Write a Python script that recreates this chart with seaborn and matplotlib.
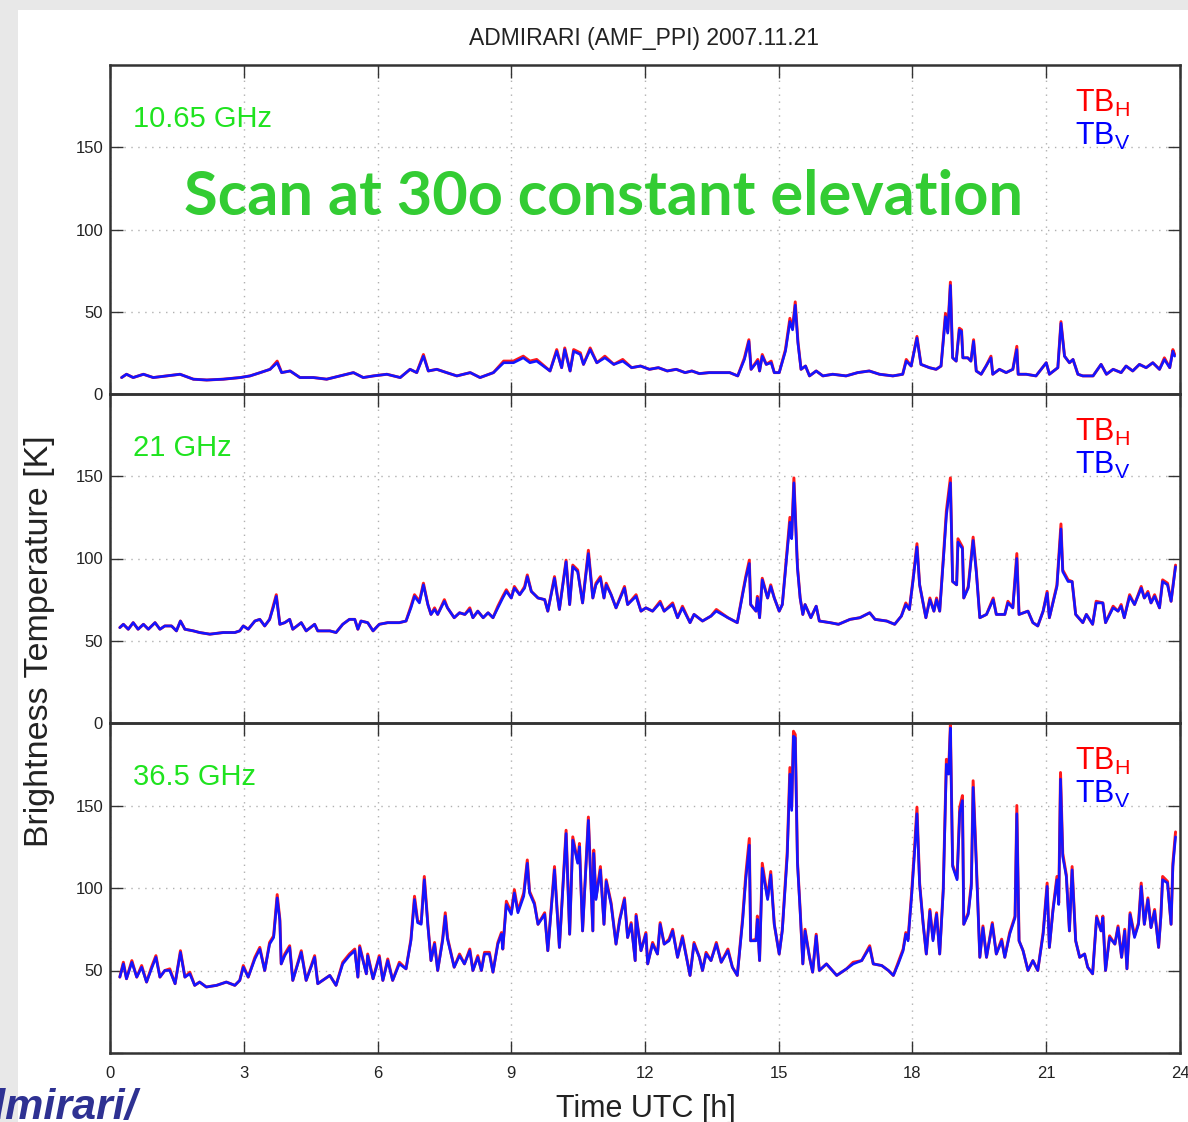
import numpy as np
import pandas as pd
import matplotlib
matplotlib.use("Agg")
import matplotlib.pyplot as plt
import seaborn as sns
from matplotlib.patches import Rectangle

# ---------------- data ----------------
title = "ADMIRARI (AMF_PPI) 2007.11.21"
freq_labels = ["10.65 GHz", "21 GHz", "36.5 GHz"]
x_ticks = [0, 3, 6, 9, 12, 15, 18, 21, 24]
y_ticks = [0, 50, 100, 150]

# 10.65 GHz
t10 = [0.26,0.37,0.52,0.75,0.97,1.27,1.57,1.87,2.17,2.54, 2.92,3.14,3.37,3.59,3.75,3.85,4.04,4.26,4.56,4.86,
       5.16,5.46,5.68,5.91,6.21,6.51,6.73,6.88,7.03,7.14, 7.33,7.55,7.78,8.08,8.3,8.6,8.83,9.05,9.27,9.42,
       9.57,9.87,10.02,10.13,10.2,10.32,10.4,10.55,10.62,10.77, 10.92,
       11.1,11.3,11.5,11.7,11.9,12.1,12.3,12.5,12.7,12.9,13.05,
       13.22,13.44,13.67,13.9,14.08,14.23,14.33,14.38,14.53,14.57, 14.63,14.72,14.83,14.9,15.01,15.15,15.25,15.31,15.37,15.43,
       15.5,15.6,15.69,15.84,15.99,16.21,16.51,16.77,17.03,17.26, 17.56,17.78,17.86,17.97,18.1,18.19,18.38,18.53,18.64,18.74,
       18.79,18.85,18.9,18.98,19.05,19.1,19.13,19.24,19.31,19.37, 19.43,19.54,19.65,19.76,19.8,19.95,20.1,20.25,20.34,20.37,
       20.55,20.77,21.0,21.07,21.26,21.33,21.41,21.52,21.6,21.71, 21.82,22.05,22.23,22.35,22.5,22.68,22.79,22.94,23.09,23.24,
       23.39,23.54,23.65,23.77,23.84,23.88]
tbv10 = [10,12,10,12,10,11,12,9,8.5,9, 10,11,13,15,19,13,14,10,10,9,
         11,13,10,11,12,10,15,13,23,14, 15,13,11,13,10,13,19,19,22,19,
         20,14,26,16,27,14,26,24,18,27, 19,
         22,18,20,16,17,15,16,14,15,13,14,
         12.4,13,13,13,11,21,32,15,20,14, 23,18,19,13,13,26,44,39,54,31,
         15,17,11,14,11,12,11,13,14,12, 11,12,20,17,34,18,16,15,17,47,
         37,66,22,20,39,38,22,22,20,32, 14,12,17,22,12,15,13,15,27,12,
         12,11,19,12,16,43,23,19,21,12, 11,11,18,12,15,13,17,14,18,16,
         19,15,21,16,26,23]
tbh10 = [10,12,10,12,10,11,12,9,8.5,9, 10,11,13,15,20,13,14,10,10,9,
         11,13,10,11,12,10,15,13,24,14, 15,13,11,13,10,13,20,20,23,20,
         21,14,27,16,28,14,27,25,18,28, 19,
         23,18,21,16,17,15,16,14,15,13,14,
         12.4,13,13,13,11,22,33,15,21,14, 24,18,20,13,13,27,46,40,56,32,
         15,17,11,14,11,12,11,13,14,12, 11,12,21,17,35,18,16,15,17,49,
         38,68,22,20,40,39,22,22,20,33, 14,12,17,23,12,15,13,15,29,12,
         12,11,19,12,16,44,23,19,21,12, 11,11,18,12,15,13,17,14,18,16,
         19,15,22,16,27,24]

# 21 GHz
t21 = [0.22,0.3,0.41,0.52,0.63,0.75,0.86,1.01,1.12,1.23, 1.38,1.49,1.58,1.68,1.87,2.01,2.24,2.54,2.8,2.91,
       2.99,3.1,3.25,3.36,3.47,3.58,3.66,3.73,3.81,3.92, 4.03,4.1,4.29,4.4,4.59,4.66,4.93,5.07,5.22,5.37,
       5.49,5.56,5.63,5.78,5.9,6.04,6.23,6.49,6.64,6.75, 6.83,6.94,7.03,7.13,7.2,7.28,7.35,7.5,7.57,7.72, 7.84,
       7.96,8.07,8.14,8.25,8.37,8.48,8.59,8.7,8.81,8.89, 9.0,9.07,9.19,9.3,9.36,9.45,9.6,9.75,9.82,9.97,
       10.08,10.23,10.31,10.38,10.49,10.6,10.73,10.83,10.9,11.0, 11.08,11.13,11.24,11.35,11.54,11.61,11.8,11.91,12.02,12.17,
       12.34,12.43,12.62,12.73,12.84,13.01,13.1,13.29,13.48,13.6, 13.86,14.07,14.19,14.26,14.34,14.37,14.49,14.52,14.57,14.63,
       14.75,14.82,14.9,15.01,15.08,15.19,15.25,15.29,15.34,15.42, 15.48,15.54,15.59,15.72,15.84,15.91,
       16.15,16.34,16.6,16.82,17.04,17.16,17.42,17.6,17.75,17.85, 17.93,18.01,18.1,18.16,18.3,18.39,18.48,18.54,18.61,18.7,
       18.76,18.85,18.9,18.99,19.02,19.12,19.15,19.25,19.36,19.43, 19.51,19.66,19.81,19.88,20.07,20.14,20.25,20.34,20.39,20.59,
       20.7,20.81,20.93,21.02,21.07,21.24,21.33,21.37,21.49,21.58, 21.66,21.82,21.9,22.04,22.12,22.27,22.33,22.5,22.61,22.68,
       22.75,22.87,22.98,23.13,23.2,23.28,23.35,23.43,23.54,23.61, 23.72,23.8,23.9]
tbv21 = [58,60,57,61,57,60,57,61,57,59, 59,56,62,57,56,55,54,55,55,56,
         59,57,62,63,59,63,70,77,60,61, 63,57,61,56,60,56,56,55,60,63,
         63,57,62,61,56,60,61,61,62,70, 77,73,84,72,66,69,66,74,70,64, 67,
         66,69,64,68,64,67,64,70,76,80, 76,82,78,82,89,80,76,75,68,88,
         69,98,72,95,92,73,103,76,84,88, 76,84,78,70,82,72,77,68,70,68,
         73,68,72,64,70,61,66,62,65,68, 64,61,78,88,97,72,68,76,64,87,
         76,83,76,68,72,104,122,112,146,94, 76,66,72,64,71,62,
         61,60,63,64,67,63,62,60,65,72, 69,86,107,84,64,75,68,75,68,102,
         126,146,86,84,110,106,76,82,111,92, 64,66,75,66,66,73,70,100,66,68,
         61,59,68,79,64,83,118,92,86,86, 66,61,66,60,73,73,61,70,68,71,
         64,77,72,82,76,79,73,77,70,86, 84,74,95]
tbh21 = [58,60,57,61,57,60,57,61,57,59, 59,56,62,57,56,55,54,55,55,56,
         59,57,62,63,59,63,71,78,60,61, 63,57,61,56,60,56,56,55,60,63,
         63,57,62,61,56,60,61,61,62,71, 78,74,85,72,66,70,66,75,70,64, 67,
         66,70,64,68,64,67,64,71,77,81, 76,83,78,83,90,80,76,75,68,89,
         69,99,72,96,93,73,105,76,85,89, 76,85,78,70,83,72,78,68,70,68,
         74,68,73,64,71,61,66,62,65,69, 64,61,79,89,99,72,68,77,64,88,
         76,84,76,68,72,106,125,114,149,95, 76,66,72,64,71,62,
         61,60,63,64,67,63,62,60,65,73, 69,87,109,84,64,76,68,76,68,104,
         129,149,86,84,112,107,76,83,113,93, 64,66,76,66,66,74,70,103,66,68,
         61,59,68,80,64,84,121,93,87,86, 66,61,66,60,74,73,61,71,68,72,
         64,78,72,83,76,80,73,78,70,87, 85,74,96]

# 36.5 GHz
t36 = [0.22,0.3,0.37,0.49,0.6,0.71,0.82,0.93,1.03,1.12, 1.23,1.34,1.46,1.58,1.68,1.79,1.9,2.01,2.16,2.39,
       2.61,2.8,2.91,2.99,3.1,3.25,3.36,3.47,3.58,3.67, 3.75,3.81,3.84,3.92,4.03,4.1,4.29,4.4,4.59,4.66,
       4.93,5.07,5.22,5.37,5.49,5.56,5.6,5.75,5.78,5.9, 6.04,6.12,6.23,6.34,6.49,6.64,6.75,6.83,6.9,6.98,
       7.05,7.13,7.2,7.28,7.35,7.46,7.52,7.57,7.72,7.84, 7.95,
       8.07,8.14,8.25,8.33,8.4,8.51,8.59,8.7,8.78,8.81, 8.89,9.0,9.07,9.15,9.28,9.36,9.41,9.52,9.6,9.75,
       9.82,9.97,10.08,10.23,10.31,10.38,10.49,10.53,10.6,10.73, 10.83,10.85,10.9,11.0,11.08,11.13,11.24,11.35,11.43,11.54,
       11.61,11.69,11.78,11.8,11.91,12.02,12.06,12.17,12.28,12.34, 12.43,12.54,12.62,12.73,12.84,13.01,13.1,13.22,13.29,13.37,
       13.48,13.6,13.71,13.86,13.96,14.07,14.19,14.26,14.34,14.37, 14.49,14.52,14.57,14.63,14.75,14.82,14.9,15.01,15.08,15.19,
       15.25,15.29,15.33,15.37,15.42,15.48,15.54,15.59,15.69,15.76, 15.84,15.91,
       16.07,16.3,16.52,16.67,16.86,17.04,17.12,17.31,17.46,17.57, 17.68,17.79,17.85,17.9,17.98,18.05,18.1,18.16,18.24,18.31,
       18.39,18.46,18.54,18.61,18.69,18.76,18.81,18.85,18.9,18.95, 19.0,19.06,19.12,19.15,19.25,19.32,19.36,19.43,19.51,19.58,
       19.66,19.79,19.88,20.0,20.07,20.18,20.3,20.34,20.39,20.48, 20.59,20.7,20.81,20.93,21.02,21.07,21.15,21.24,21.28,21.32,
       21.37,21.45,21.52,21.58,21.66,21.75,21.86,21.93,22.04,22.13, 22.23,22.27,22.33,22.42,22.54,22.61,22.69,22.76,22.81,22.88,
       22.98,23.07,23.13,23.2,23.28,23.35,23.43,23.52,23.57,23.61, 23.72,23.8,23.84,23.9]
tbv36 = [46,54,45,55,46,52,43,51,58,46, 50,50,42,61,46,48,41,43,40,41,
         43,41,44,52,46,57,63,50,66,70, 94,80,54,59,64,44,61,44,58,42,
         47,41,54,59,62,46,64,48,59,45, 58,44,56,44,54,51,68,93,79,78,
         105,77,56,66,50,68,83,69,52,59, 54,
         62,50,58,50,60,60,49,66,72,63, 90,84,97,85,95,115,97,90,78,84,
         62,111,64,133,72,129,115,125,74,141, 74,121,93,111,78,104,90,66,80,93,
         70,78,56,83,62,72,54,66,60,78, 66,68,74,58,70,47,66,58,50,60,
         56,66,55,62,52,47,80,105,126,68, 68,81,56,112,93,108,78,60,74,119,
         169,147,192,191,115,86,54,74,58,49, 71,50,
         54,47,51,54,56,64,54,53,50,47, 54,62,72,68,95,123,145,102,78,60,
         86,68,84,60,98,175,169,197,113,109, 105,146,153,78,84,101,161,115,58,76,
         58,78,60,68,58,72,82,145,68,62, 50,56,50,72,101,64,86,105,90,166,
         119,107,74,111,68,58,60,52,48,82, 74,82,50,70,66,76,58,74,51,84,
         70,78,101,78,93,76,86,64,82,105, 103,78,113,131]
tbh36 = [46,55,45,56,46,53,43,52,59,46, 50,51,42,62,46,49,41,43,40,41,
         43,41,44,53,46,58,64,50,67,71, 96,81,54,60,65,44,62,44,59,42,
         47,41,55,60,63,46,65,48,60,45, 59,44,57,44,55,51,69,95,80,79,
         107,78,56,67,50,69,85,70,52,60, 54,
         63,50,59,50,61,61,49,67,73,63, 92,85,99,86,97,117,98,91,78,85,
         62,113,64,135,72,131,116,127,74,143, 74,123,94,113,78,105,91,66,81,94,
         70,79,56,84,62,73,54,67,60,79, 66,69,75,58,71,47,67,58,50,61,
         56,67,55,63,52,47,82,108,130,68, 69,83,56,115,94,110,78,60,75,122,
         173,149,195,193,116,87,54,75,58,49, 72,50,
         54,47,51,55,56,65,54,53,50,47, 55,63,73,69,97,126,149,103,78,60,
         87,69,85,60,100,178,171,199,114,110, 106,149,156,78,85,103,165,117,58,77,
         58,79,60,69,58,73,83,150,68,62, 50,56,50,73,103,64,87,107,91,170,
         121,108,74,113,68,58,60,52,48,83, 74,83,50,71,66,77,58,75,51,85,
         71,79,103,78,94,76,87,64,83,107, 104,78,115,134]

panels = [(t10, tbh10, tbv10), (t21, tbh21, tbv21), (t36, tbh36, tbv36)]

# ---------------- style ----------------
sns.set_style("ticks")
plt.rcParams['font.family'] = ['Liberation Sans', 'DejaVu Sans']
plt.rcParams['mathtext.fontset'] = 'custom'
plt.rcParams['mathtext.rm'] = 'Liberation Sans'
plt.rcParams['mathtext.it'] = 'Liberation Sans'

W, H = 1188, 1122
fig = plt.figure(figsize=(W / 100, H / 100), dpi=100, facecolor='#e8e8e8')
fig.add_artist(Rectangle((18 / W, 0), 1 - 18 / W, (H - 10) / H, transform=fig.transFigure,
                         facecolor='white', edgecolor='none', zorder=-10))

left, width = 110 / W, 1070 / W
tops = [65, 394, 723]
bots = [394, 723, 1053]

RED = '#ff1a1a'
BLUE = '#1414ff'
GREEN = '#1fe31f'

for i, (t, h, v) in enumerate(panels):
    ax = fig.add_axes([left, (H - bots[i]) / H, width, (bots[i] - tops[i]) / H])
    ax.set_facecolor('none')
    df = pd.DataFrame({'t': t, 'H': h, 'V': v})
    sns.lineplot(data=df, x='t', y='H', ax=ax, color=RED, lw=2.1, estimator=None, sort=False)
    sns.lineplot(data=df, x='t', y='V', ax=ax, color=BLUE, lw=1.9, estimator=None, sort=False)
    ax.set_xlim(0, 24)
    ax.set_ylim(0, 200)
    ax.set_xticks(x_ticks)
    ax.set_yticks(y_ticks)
    if i < 2:
        ax.set_xticklabels([])
    else:
        ax.set_xticklabels([str(x) for x in x_ticks])
        ax.set_yticklabels([''] + [str(y) for y in y_ticks[1:]])
    ax.set_xlabel('')
    ax.set_ylabel('')
    ax.grid(True, linestyle=(0, (1, 4)), color='#b0b0b0', lw=1.0)
    ax.tick_params(direction='in', length=9, width=1.0, top=True, right=True,
                   colors='#333333', labelcolor='#222222', labelsize=12)
    ax.tick_params(axis='x', pad=9)
    ax.tick_params(axis='y', pad=5)
    for s in ax.spines.values():
        s.set_linewidth(1.8)
        s.set_color('#333333')
    ax.text(0.0215, 0.812, freq_labels[i], transform=ax.transAxes, color=GREEN,
            fontsize=21, va='baseline', ha='left')
    ax.text(0.902, 0.857, r'TB$_{\mathrm{H}}$', transform=ax.transAxes, color='#ff0000',
            fontsize=22, va='baseline', ha='left')
    ax.text(0.902, 0.758, r'TB$_{\mathrm{V}}$', transform=ax.transAxes, color='#0000ff',
            fontsize=22, va='baseline', ha='left')

fig.text(644 / W, (H - 38) / H, title, ha='center', va='center', fontsize=16.5, color='#222222')
fig.text(646 / W, (H - 1117) / H, 'Time UTC [h]', ha='center', va='baseline', fontsize=22, color='#222222')
fig.text(40 / W, (H - 641) / H, 'Brightness Temperature [K]', ha='center', va='center',
         rotation=90, fontsize=24.5, color='#222222')

big = fig.text(184 / W, (H - 215) / H, 'Scan at 30o constant elevation', ha='left', va='baseline',
               fontsize=40, fontweight='bold', color='#33cc33', family=['Lato', 'DejaVu Sans'])
fig.text(138 / W, (H - 1119) / H, 'admirari/', ha='right', va='baseline', fontsize=31,
         fontweight='bold', style='italic', color='#2e3192')

# fit the overlay text width to the reference span
r = fig.canvas.get_renderer()
wpx = big.get_window_extent(r).width
big.set_fontsize(big.get_fontsize() * 840 / wpx)

fig.savefig('out.png', dpi=100, facecolor=fig.get_facecolor())
